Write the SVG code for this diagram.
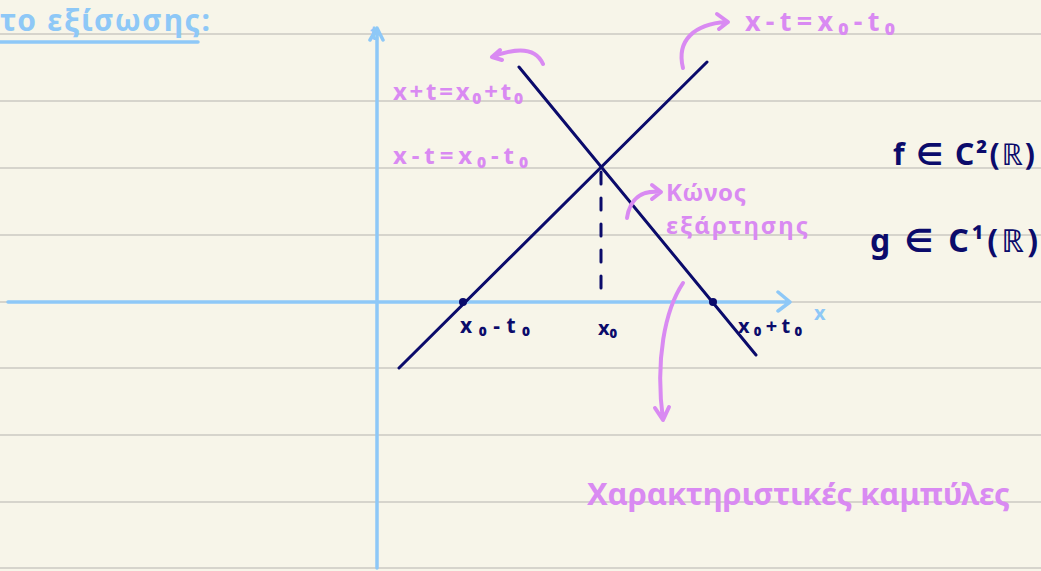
<svg xmlns="http://www.w3.org/2000/svg" width="1041" height="571" viewBox="0 0 1041 571">
<defs>
<style>
.rule{stroke:#d6d4cc;stroke-width:2}
.axis{stroke:#8ec8f7;stroke-width:3.5;fill:none;stroke-linecap:round;stroke-linejoin:round}
.navy{stroke:#0b0b6b;stroke-width:3;fill:none;stroke-linecap:round}
.pink{stroke:#d98af2;stroke-width:4;fill:none;stroke-linecap:round;stroke-linejoin:round}
.tp{fill:#d98af2;font-family:"Noto Sans","DejaVu Sans",sans-serif;font-weight:bold}
.tn{fill:#0b0b6b;font-family:"Noto Sans","DejaVu Sans",sans-serif;font-weight:bold}
.tb{fill:#8ec8f7;font-family:"Noto Sans","DejaVu Sans",sans-serif;font-weight:bold}
</style>
</defs>
<rect width="1041" height="571" fill="#f7f5e9"/>
<g id="rules">
<line class="rule" x1="0" y1="34" x2="1041" y2="34"/>
<line class="rule" x1="0" y1="101" x2="1041" y2="101"/>
<line class="rule" x1="0" y1="168" x2="1041" y2="168"/>
<line class="rule" x1="0" y1="235" x2="1041" y2="235"/>
<line class="rule" x1="0" y1="302" x2="1041" y2="302"/>
<line class="rule" x1="0" y1="368" x2="1041" y2="368"/>
<line class="rule" x1="0" y1="435" x2="1041" y2="435"/>
<line class="rule" x1="0" y1="502" x2="1041" y2="502"/>
<line class="rule" x1="0" y1="568" x2="1041" y2="568"/>
</g>
<g id="header">
<text class="tb" x="0" y="31" font-size="30" textLength="210" lengthAdjust="spacing">το εξίσωσης:</text>
<line class="axis" x1="0" y1="42" x2="198" y2="42"/>
</g>
<g id="axes">
<path class="axis" d="M377 568 L377 30 M370 40 L377 28 L383 40"/>
<path class="axis" d="M8 302 L790 302 M778 292 L790 302 L778 311"/>
<text class="tb" x="370" y="40" font-size="20">t</text>
<text class="tb" x="814" y="320" font-size="20">x</text>
</g>
<g id="connectors">
<line class="navy" x1="399" y1="368" x2="707" y2="62"/>
<line class="navy" x1="519" y1="67" x2="756" y2="355"/>
<line class="navy" x1="601" y1="172" x2="601" y2="302" stroke-dasharray="12,14"/>
<circle cx="463" cy="302" r="4" fill="#0b0b6b"/>
<circle cx="713" cy="302" r="4" fill="#0b0b6b"/>
<path class="pink" d="M543 64 C535 46 515 48 492 57 M500 50 L492 57 L502 60"/>
<path class="pink" d="M683 68 C676 40 695 24 726 22 M717 14 L728 22 L719 29"/>
<path class="pink" d="M627 218 C630 198 642 190 660 192 M652 185 L661 192 L652 199"/>
<path class="pink" d="M683 283 C665 310 655 360 663 420 M655 408 L663 420 L669 407"/>
</g>
<g id="labels">
<text class="tp" x="393" y="100" font-size="24" textLength="130" lengthAdjust="spacing">x+t=x₀+t₀</text>
<text class="tp" x="393" y="164" font-size="24" textLength="135" lengthAdjust="spacing">x-t=x₀-t₀</text>
<text class="tp" x="745" y="31" font-size="27" textLength="150" lengthAdjust="spacing">x-t=x₀-t₀</text>
<text class="tp" x="666" y="201" font-size="24" textLength="80" lengthAdjust="spacing">Κώνος</text>
<text class="tp" x="666" y="234" font-size="24" textLength="142" lengthAdjust="spacing">εξάρτησης</text>
<text class="tp" x="587" y="505" font-size="31" textLength="423" lengthAdjust="spacing">Χαρακτηριστικές καμπύλες</text>
<text class="tn" x="460" y="333" font-size="21" textLength="70" lengthAdjust="spacing">x₀-t₀</text>
<text class="tn" x="598" y="335" font-size="20">x₀</text>
<text class="tn" x="738" y="333" font-size="20" textLength="64" lengthAdjust="spacing">x₀+t₀</text>
<text class="tn" x="893" y="165" font-size="30" textLength="142" lengthAdjust="spacing">f ∈ C²(ℝ)</text>
<text class="tn" x="870" y="252" font-size="32" textLength="168" lengthAdjust="spacing">g ∈ C¹(ℝ)</text>
</g>
</svg>
